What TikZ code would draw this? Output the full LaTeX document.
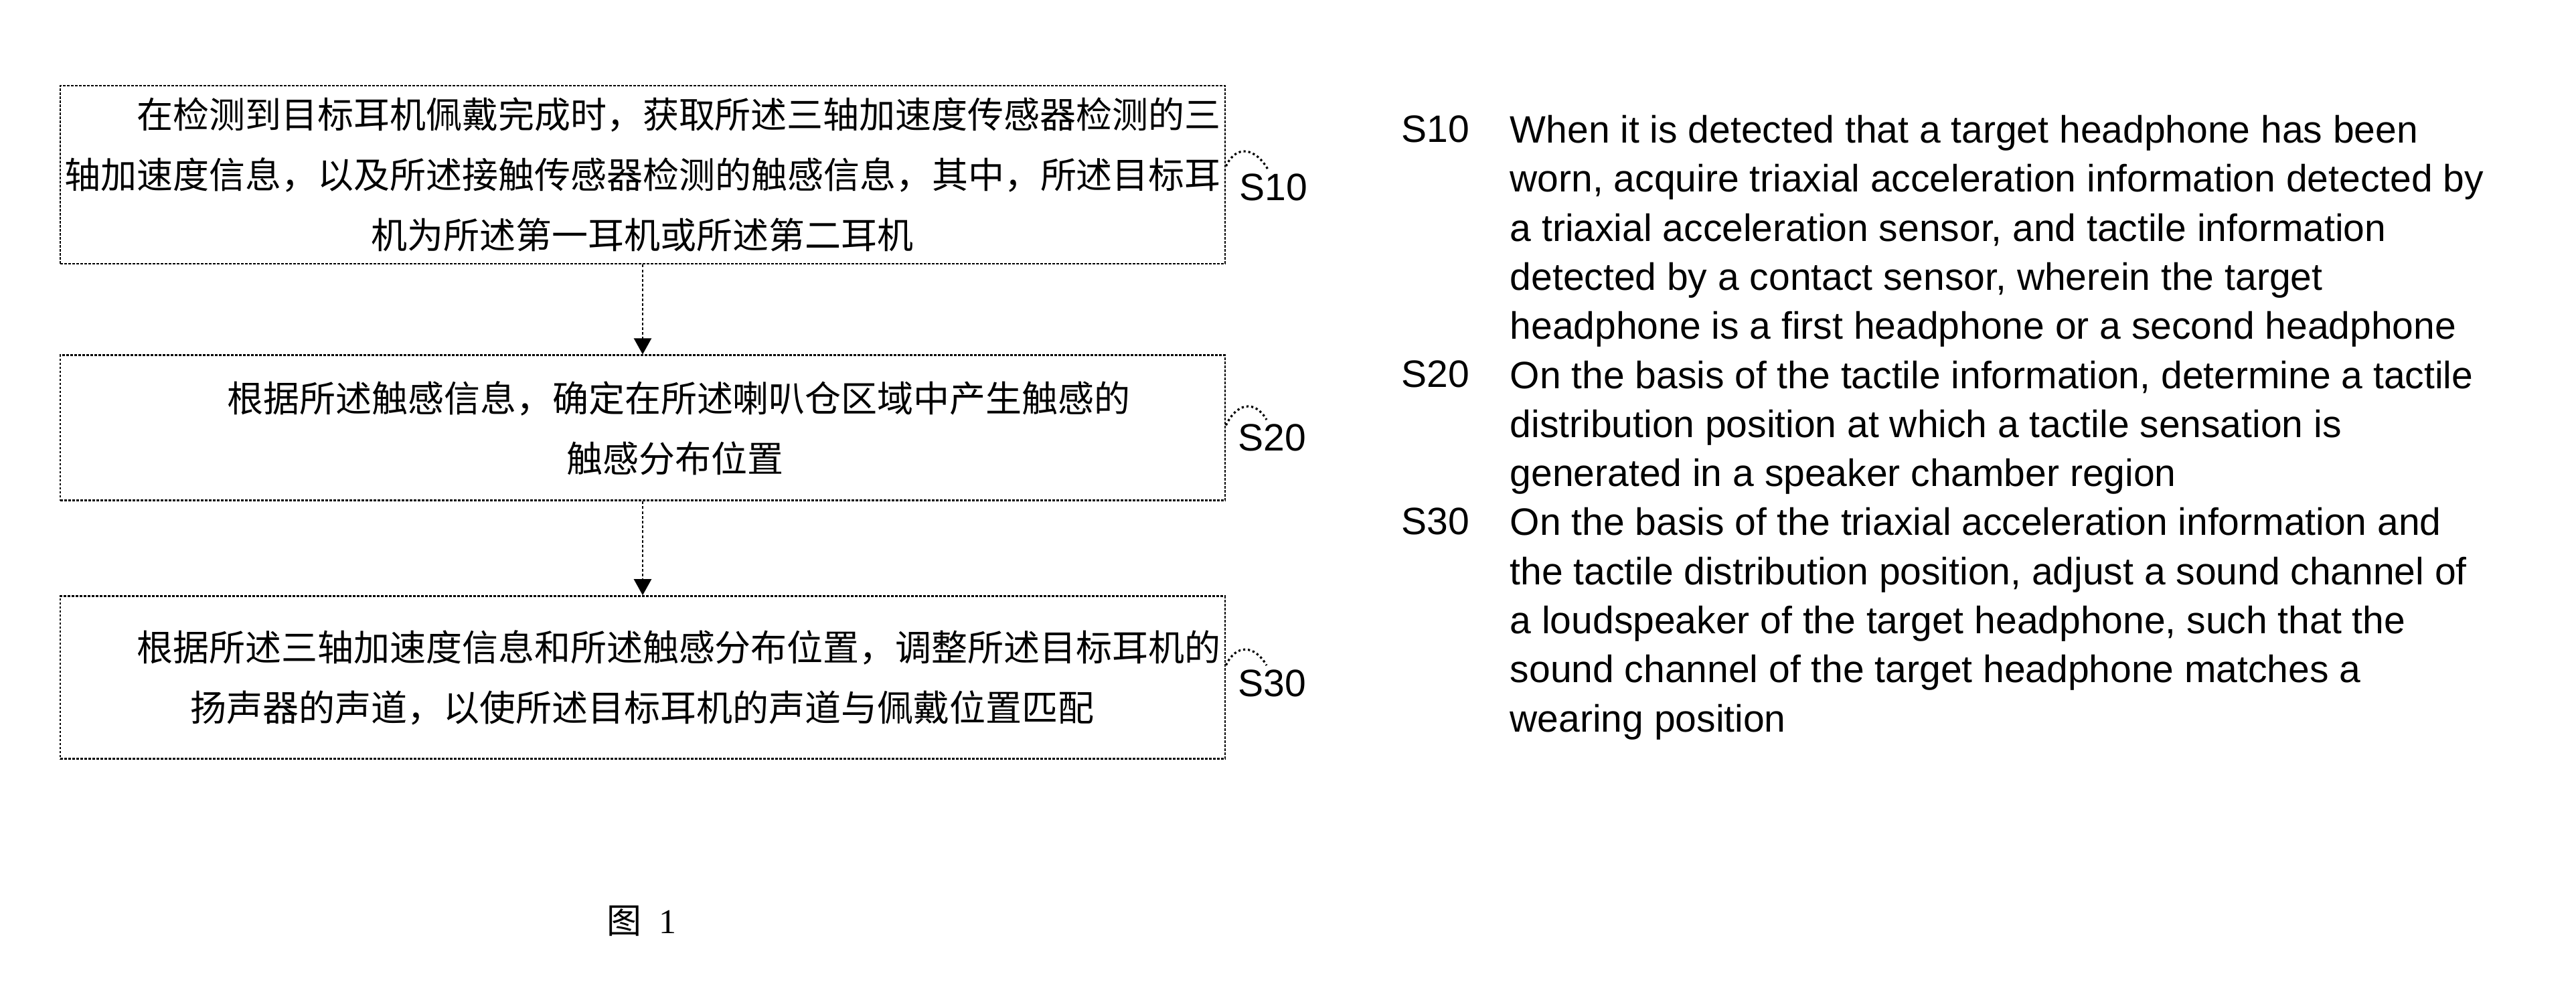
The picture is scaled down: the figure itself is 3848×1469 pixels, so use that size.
\documentclass[tikz,border=0pt]{standalone}
\usepackage{fontspec}
\setmainfont{Liberation Serif}
\setsansfont{Liberation Sans}
\newfontfamily\cjk{Noto Sans CJK SC}
\usetikzlibrary{positioning,arrows.meta}

\tikzset{
  stepbox/.style = {draw, dash pattern=on 0.9pt off 0.6pt, line width=0.7pt,
    minimum width=435pt, text width=432pt, inner sep=0pt, align=center,
    font=\cjk\fontsize{13.5pt}{22.5pt}\selectfont},
  flow/.style = {dash pattern=on 1pt off 0.8pt, line width=0.6pt,
    -{Triangle[length=6pt,width=6.5pt]}},
  leader/.style = {densely dotted, line width=0.8pt},
  steplabel/.style = {inner sep=0pt, font=\sffamily\fontsize{14.25pt}{18.33pt}\selectfont},
  steptext/.style = {steplabel, align=left}
}

\begin{document}
\begin{tikzpicture}[x=0.25pt, y=-0.25pt]
\useasboundingbox (0,0) rectangle (3848,1469);

% flow chart
\node[stepbox, minimum height=66.5pt] (s1) at (960,261)
  {\hspace*{2em}在检测到目标耳机佩戴完成时，获取所述三轴加速度传感器检测的三\\轴加速度信息，以及所述接触传感器检测的触感信息，其中，所述目标耳\\机为所述第一耳机或所述第二耳机};
\node[stepbox, minimum height=54.25pt, below=33.5pt of s1] (s2)
  {\hspace*{2em}根据所述触感信息，确定在所述喇叭仓区域中产生触感的\\\hspace*{1.8em}触感分布位置};
\node[stepbox, minimum height=60.75pt, below=35pt of s2] (s3)
  {\hspace*{2em}根据所述三轴加速度信息和所述触感分布位置，调整所述目标耳机的\\扬声器的声道，以使所述目标耳机的声道与佩戴位置匹配};

\draw[flow] (s1) -- (s2);
\draw[flow] (s2) -- (s3);

% step numbers
\node[steplabel] (l1) at (1902,280) {S10};
\node[steplabel] (l2) at (1900,654) {S20};
\node[steplabel] (l3) at (1900,1021) {S30};

\draw[leader] ([yshift=3.2pt]s1.east) to[out=65,in=120,looseness=1.5] ([xshift=-2pt,yshift=1.5pt]l1.north);
\draw[leader] ([yshift=1pt]s2.east) to[out=65,in=120,looseness=1.5] ([xshift=-2pt,yshift=1.5pt]l2.north);
\draw[leader] ([yshift=4.6pt]s3.east) to[out=65,in=120,looseness=1.5] ([xshift=-2pt,yshift=1.5pt]l3.north);

% legend on the right
\node[steplabel, anchor=base west] (r1) at (2093,212) {S10};
\node[steptext, anchor=north west] (t1) at (r1.north -| 2255,0)
  {When it is detected that a target headphone has been\\worn, acquire triaxial acceleration information detected by\\a triaxial acceleration sensor, and tactile information\\detected by a contact sensor, wherein the target\\headphone is a first headphone or a second headphone};
\node[steplabel, anchor=base west] (r2) at (2093,578.5) {S20};
\node[steptext, anchor=north west] (t2) at (r2.north -| 2255,0)
  {On the basis of the tactile information, determine a tactile\\distribution position at which a tactile sensation is\\generated in a speaker chamber region};
\node[steplabel, anchor=base west] (r3) at (2093,798.4) {S30};
\node[steptext, anchor=north west] (t3) at (r3.north -| 2255,0)
  {On the basis of the triaxial acceleration information and\\the tactile distribution position, adjust a sound channel of\\a loudspeaker of the target headphone, such that the\\sound channel of the target headphone matches a\\wearing position};

% caption
\node[font=\fontsize{13pt}{15pt}\selectfont] (fig) at (958,1376) {{\cjk 图}\enspace1};
\end{tikzpicture}
\end{document}
